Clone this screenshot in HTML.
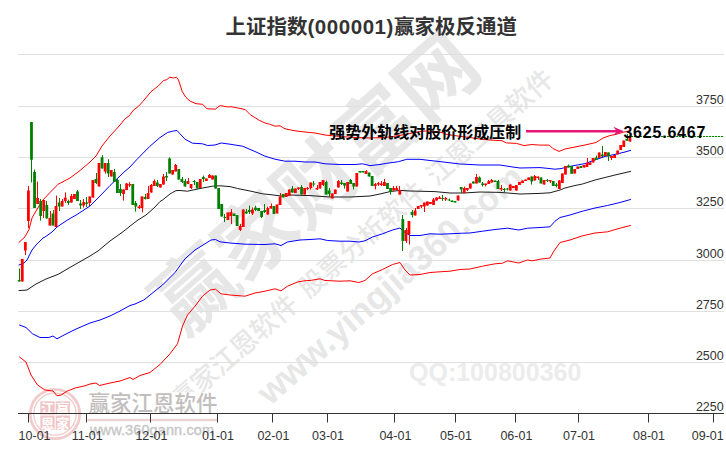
<!DOCTYPE html>
<html lang="zh-CN"><head><meta charset="utf-8"><title>上证指数(000001)赢家极反通道</title>
<style>
html,body{margin:0;padding:0;background:#fff;}
body{width:726px;height:450px;overflow:hidden;font-family:"Liberation Sans", "Noto Sans CJK SC", sans-serif;}
svg{display:block;}
svg text{font-family:"Liberation Sans", "Noto Sans CJK SC", sans-serif;}
.wm{fill:#e7e7e7;font-weight:bold;}
.ax{fill:#333;font-size:12.5px;}
</style></head><body>
<svg width="726" height="450" viewBox="0 0 726 450">
<rect width="726" height="450" fill="#fff"/>
<g class="wm">
<g transform="translate(316.3,183.9) rotate(-41.4)"><text x="0" y="0" font-size="80.4" text-anchor="middle" dominant-baseline="central">赢家财富网</text></g>
<g transform="translate(362.3,239.8) rotate(-41.4)"><text x="0" y="0" font-size="26.45" font-weight="500" word-spacing="4.3" text-anchor="middle" dominant-baseline="central">赢家江恩软件 股票分析软件 江恩工具软件</text></g>
<g transform="translate(389.8,284) rotate(-41.4)"><text x="0" y="0" font-size="35" text-anchor="middle" dominant-baseline="central">www.yingjia360.com</text></g>
<text x="409" y="381" font-size="25" fill="#ececec">QQ:100800360</text>
</g>
<rect x="19" y="392" width="202" height="56" fill="#fff"/>
<rect x="18" y="54" width="706" height="1" fill="#e0e0e0"/>
<rect x="18" y="106" width="706" height="1" fill="#e0e0e0"/>
<rect x="18" y="157" width="706" height="1" fill="#e0e0e0"/>
<rect x="18" y="208" width="706" height="1" fill="#e0e0e0"/>
<rect x="18" y="260" width="706" height="1" fill="#e0e0e0"/>
<rect x="18" y="311" width="706" height="1" fill="#e0e0e0"/>
<rect x="18" y="362" width="706" height="1" fill="#e0e0e0"/>
<g>
<circle cx="55" cy="414" r="24.7" fill="none" stroke="#f2cbcb" stroke-width="2.8"/>
<circle cx="55" cy="414" r="21.2" fill="none" stroke="#f2cbcb" stroke-width="1.3"/>
<rect x="40.3" y="401.3" width="14.4" height="13.2" fill="#f1c6c6"/>
<rect x="55.7" y="401.3" width="14.2" height="13.2" fill="#f1c6c6"/>
<rect x="40.3" y="415.5" width="14.4" height="14.3" fill="#f1c6c6"/>
<rect x="55.7" y="415.5" width="14.2" height="14.3" fill="#f1c6c6"/>
<g fill="#fff" font-size="13" font-weight="bold" text-anchor="middle">
<text x="47.4" y="412.6">江</text><text x="62.8" y="412.6">赢</text><text x="47.4" y="427.6">恩</text><text x="62.8" y="427.6">家</text>
</g>
<text x="88.5" y="410.5" font-size="21.5" font-weight="500" fill="#c2bebe">赢家江恩软件</text>
<rect x="87.5" y="418.8" width="130" height="2.4" fill="#ecd2d2"/>
<text x="90" y="435.3" font-size="14.5" fill="#c6c6c6" stroke="#c6c6c6" stroke-width="0.35" textLength="124" lengthAdjust="spacing">www.360gann.com</text>
</g>
<path d="M19.0 242.4 L25.0 236.8 L29.0 229.5 L32.0 218.0 L36.0 211.0 L42.0 201.0 L50.0 192.5 L58.0 184.3 L70.0 178.0 L80.0 170.5 L90.0 162.0 L96.0 156.0 L102.0 146.0 L110.0 136.0 L120.0 125.0 L125.0 118.8 L129.3 115.8 L133.5 110.0 L138.5 106.3 L142.7 101.7 L151.0 91.7 L158.5 85.8 L163.5 80.5 L166.8 79.7 L169.7 77.2 L173.5 78.0 L176.5 77.2 L178.5 80.0 L182.3 91.7 L186.0 97.5 L190.2 101.2 L196.0 103.7 L202.7 104.3 L206.8 108.7 L215.2 109.2 L220.2 105.5 L227.7 107.0 L231.0 106.7 L242.0 108.8 L245.3 109.7 L250.3 114.7 L258.7 120.0 L265.0 123.0 L269.5 124.2 L275.0 126.2 L280.0 125.8 L285.0 128.8 L295.0 130.8 L305.0 132.0 L315.0 133.0 L325.0 135.0 L340.0 136.5 L355.0 137.5 L370.0 138.0 L385.0 137.5 L395.0 136.2 L405.0 134.5 L415.0 132.5 L424.0 131.0 L432.0 131.2 L441.0 132.3 L447.0 134.5 L454.5 135.6 L463.0 136.7 L472.0 137.8 L480.0 139.0 L491.0 140.1 L502.0 140.7 L506.4 142.9 L516.4 143.4 L524.0 145.6 L531.8 144.5 L539.5 145.1 L549.4 145.1 L552.7 148.4 L556.0 150.0 L559.0 151.4 L565.0 149.0 L575.0 147.0 L585.0 145.0 L596.0 142.5 L603.0 138.0 L609.8 135.6 L616.7 134.2 L623.6 132.1 L630.6 130.8" fill="none" stroke="#ff0000" stroke-width="1.0" stroke-linejoin="round" stroke-linecap="round"/>
<path d="M19.5 357.0 L26.0 362.0 L31.0 375.0 L37.5 385.0 L45.0 390.0 L53.0 391.0 L57.0 395.8 L61.0 395.0 L67.5 391.0 L75.0 388.0 L85.0 385.8 L90.0 384.0 L96.0 383.0 L99.5 385.5 L110.0 383.0 L120.0 381.0 L130.0 377.5 L133.0 379.5 L140.0 375.5 L150.0 372.5 L160.0 364.5 L170.0 353.8 L177.5 343.8 L182.5 326.0 L187.5 315.0 L195.0 306.2 L202.5 296.2 L210.0 290.0 L215.5 289.2 L221.0 293.8 L230.0 295.0 L245.0 296.2 L255.0 293.0 L265.0 291.2 L275.0 288.8 L281.0 290.8 L287.5 286.2 L297.5 282.0 L306.5 280.5 L310.0 280.5 L320.0 278.8 L325.0 280.5 L340.0 281.2 L350.0 280.8 L358.8 282.5 L365.0 280.5 L372.5 273.8 L382.5 269.5 L392.5 264.5 L400.0 262.5 L405.0 270.0 L410.0 275.0 L420.0 274.5 L430.0 272.5 L440.0 271.8 L450.0 271.2 L460.0 269.5 L470.0 269.0 L482.5 266.2 L495.0 263.8 L502.5 263.2 L507.5 260.8 L518.8 263.0 L527.5 260.0 L532.5 260.8 L540.0 259.2 L550.0 258.0 L553.8 251.2 L560.0 242.5 L570.0 240.0 L582.5 235.8 L595.0 233.0 L607.5 231.8 L620.0 228.2 L630.5 225.5" fill="none" stroke="#ff0000" stroke-width="1.0" stroke-linejoin="round" stroke-linecap="round"/>
<path d="M19.0 265.0 L24.0 263.0 L27.0 260.0 L30.0 254.0 L32.0 250.0 L36.0 245.0 L43.0 238.0 L45.0 237.0 L52.0 232.0 L57.0 227.0 L66.0 221.0 L70.0 218.5 L77.0 214.5 L90.0 206.0 L100.0 196.0 L110.0 185.5 L120.0 176.0 L125.0 171.2 L130.0 167.0 L137.5 158.8 L150.0 146.2 L160.0 137.5 L167.5 132.5 L172.5 131.2 L177.0 130.5 L180.0 133.8 L185.0 139.2 L192.5 143.2 L202.5 143.8 L207.5 145.5 L215.0 145.0 L221.2 143.0 L230.0 144.2 L242.5 146.2 L255.0 151.5 L265.0 156.2 L275.0 159.2 L285.0 161.2 L295.0 161.2 L305.0 162.0 L315.0 162.0 L325.0 163.8 L340.0 164.5 L355.0 164.5 L362.5 163.8 L370.0 165.6 L380.0 164.5 L386.7 163.3 L398.3 161.7 L406.7 159.3 L420.0 159.3 L430.0 160.5 L440.0 161.6 L460.0 164.0 L480.0 165.0 L500.0 165.0 L510.0 166.6 L520.0 168.0 L540.0 167.6 L550.0 168.6 L555.0 169.2 L561.0 168.6 L567.0 167.0 L575.0 165.4 L585.0 163.6 L595.0 160.0 L605.0 156.4 L615.0 154.4 L625.0 152.0 L630.6 150.4" fill="none" stroke="#0000ff" stroke-width="1.0" stroke-linejoin="round" stroke-linecap="round"/>
<path d="M19.5 325.0 L26.0 327.5 L32.5 333.8 L40.0 337.5 L48.8 337.5 L53.0 336.0 L57.0 338.8 L65.0 334.5 L75.0 329.5 L90.0 323.0 L100.0 320.0 L110.0 316.0 L120.0 311.0 L130.0 305.5 L135.0 304.0 L143.8 300.0 L150.0 295.0 L162.5 285.0 L175.0 272.5 L185.0 258.8 L195.0 250.0 L205.0 243.8 L211.0 240.0 L215.5 239.5 L220.0 241.8 L230.0 243.0 L245.0 244.2 L265.0 244.5 L275.0 243.8 L281.0 245.5 L287.5 242.0 L300.0 240.0 L310.0 239.5 L320.0 238.8 L327.5 240.5 L340.0 241.2 L350.0 241.2 L358.8 242.0 L365.0 240.8 L372.5 237.0 L382.5 233.8 L392.5 230.0 L400.0 228.0 L405.0 232.5 L410.0 235.5 L420.0 235.5 L430.0 233.8 L440.0 234.2 L450.0 233.8 L462.5 233.2 L470.0 233.0 L482.5 231.2 L495.0 229.5 L507.5 228.2 L518.8 230.0 L527.5 228.2 L540.0 227.5 L550.0 226.8 L555.0 221.2 L560.0 217.5 L570.0 215.0 L582.5 211.2 L595.0 208.0 L607.5 205.5 L620.0 202.5 L630.5 199.5" fill="none" stroke="#0000ff" stroke-width="1.0" stroke-linejoin="round" stroke-linecap="round"/>
<path d="M19.0 290.6 L27.0 290.0 L30.0 288.0 L36.0 284.0 L46.0 279.0 L58.0 274.4 L70.0 267.4 L90.0 256.0 L98.0 251.0 L110.0 241.0 L122.0 232.5 L134.0 223.0 L138.0 220.0 L146.0 215.0 L150.0 211.5 L155.0 207.0 L160.0 201.5 L162.5 200.0 L170.0 194.0 L172.5 192.5 L176.0 190.6 L180.0 190.5 L187.5 191.2 L200.0 188.5 L212.5 186.2 L220.0 185.8 L230.0 186.6 L237.5 188.5 L250.0 191.0 L262.5 193.8 L270.0 194.6 L281.5 196.0 L290.0 195.0 L310.0 195.6 L330.0 197.0 L350.0 197.0 L370.0 196.0 L380.0 194.0 L390.0 191.6 L400.0 190.4 L410.0 191.0 L435.0 191.6 L450.0 193.0 L464.0 193.0 L480.0 192.0 L500.0 192.4 L520.0 194.0 L540.0 193.4 L550.0 192.8 L560.0 190.0 L565.0 188.0 L575.0 185.5 L582.5 184.0 L595.0 180.0 L615.0 175.0 L630.6 171.4" fill="none" stroke="#1c1c1c" stroke-width="1.0" stroke-linejoin="round" stroke-linecap="round"/>
<path d="M631 136.5 H723.5" stroke="#008000" stroke-width="1" stroke-dasharray="2.2 0.8" fill="none"/>
<path d="M22.5 259.0V281.6M25.5 242.0V255.0M28.5 186.0V228.0M37.5 181.6V204.0M43.5 200.0V218.0M50.5 211.0V225.6M56.5 195.6V227.0M62.5 199.0V206.4M65.5 192.4V203.0M71.5 194.0V202.6M74.5 194.0V199.0M83.5 199.0V207.6M89.5 196.4V206.0M93.5 180.0V197.6M99.5 163.0V186.4M105.5 163.0V173.6M111.5 170.0V176.4M123.5 189.6V200.6M126.5 183.0V190.0M129.5 182.0V187.0M139.5 205.0V209.0M142.5 196.4V212.4M148.5 186.0V199.0M151.5 184.0V192.6M154.5 179.4V186.0M160.5 184.0V187.6M163.5 174.0V184.6M172.5 170.0V174.6M175.5 164.0V171.4M188.5 178.0V184.0M191.5 184.0V189.0M200.5 179.0V188.0M206.5 178.6V181.0M209.5 174.0V178.0M212.5 175.4V179.4M228.5 212.6V220.0M231.5 209.0V224.0M240.5 224.0V231.0M243.5 209.4V227.0M252.5 207.4V215.0M267.5 206.6V214.6M271.5 203.4V208.6M277.5 204.6V213.4M280.5 193.0V205.0M286.5 193.0V197.0M289.5 189.4V196.0M295.5 188.6V193.0M298.5 187.4V190.0M304.5 188.0V194.6M307.5 187.0V190.0M310.5 182.6V189.6M317.5 185.0V190.0M320.5 182.0V188.6M323.5 180.0V186.0M332.5 193.4V198.6M335.5 189.6V194.0M338.5 180.0V187.4M347.5 182.0V191.4M356.5 173.0V186.6M366.5 170.0V174.0M375.5 183.0V189.4M378.5 182.0V186.0M381.5 181.0V186.0M384.5 179.0V186.0M393.5 186.0V190.6M396.5 186.0V190.0M399.5 186.0V194.6M406.5 228.0V243.0M409.5 221.0V244.6M415.5 208.0V215.4M418.5 206.0V209.0M421.5 205.0V208.0M424.5 202.6V212.0M427.5 201.6V205.6M430.5 202.0V204.0M433.5 198.0V205.0M436.5 197.4V200.6M439.5 196.0V199.0M445.5 197.0V201.0M458.5 195.6V200.6M464.5 186.6V193.0M467.5 188.0V191.0M470.5 183.6V188.6M476.5 174.0V183.4M485.5 183.6V186.4M488.5 180.0V184.0M491.5 179.0V182.4M501.5 185.0V191.0M510.5 184.6V190.6M513.5 186.0V188.0M516.5 185.0V190.6M519.5 182.0V185.0M522.5 180.6V183.0M525.5 179.4V181.0M528.5 177.4V180.0M534.5 175.0V180.6M538.5 176.6V180.0M544.5 180.0V184.6M550.5 180.0V183.0M559.5 180.0V189.0M562.5 173.5V183.0M565.5 166.0V174.4M574.5 169.0V173.5M577.5 166.6V169.0M584.5 165.0V167.6M587.5 158.0V167.0M590.5 162.4V165.0M593.5 158.0V162.4M599.5 152.6V158.0M605.5 152.0V156.0M611.5 156.0V160.0M614.5 155.0V158.0M617.5 150.6V154.4M620.5 145.0V150.0M623.5 140.6V147.0M630.5 135.5V141.8" stroke="#ff0000" stroke-width="1" fill="none"/>
<path d="M19.5 268.6V281.6M31.5 122.0V182.4M34.5 169.6V208.0M40.5 199.0V220.6M46.5 201.0V218.4M53.5 210.0V225.6M59.5 198.0V211.0M68.5 199.6V205.0M77.5 190.0V201.0M80.5 200.0V209.0M86.5 197.0V207.0M96.5 173.0V184.0M102.5 155.0V168.4M108.5 159.2V177.0M114.5 169.0V182.0M117.5 179.0V193.0M120.5 184.0V196.0M132.5 184.0V205.0M135.5 201.0V211.6M145.5 194.0V199.6M157.5 180.0V187.0M166.5 172.0V181.0M169.5 157.4V173.6M178.5 169.0V179.6M182.5 177.0V183.0M185.5 179.0V186.6M194.5 180.0V185.0M197.5 182.0V188.6M203.5 175.6V182.0M215.5 175.4V188.6M218.5 188.0V209.0M221.5 204.0V216.6M224.5 214.0V222.0M234.5 213.6V216.0M237.5 215.0V226.0M246.5 209.0V214.0M249.5 205.6V214.0M255.5 205.6V211.0M258.5 208.0V211.0M261.5 211.0V218.0M264.5 204.0V213.0M274.5 206.0V214.0M283.5 194.0V197.4M292.5 186.0V192.6M301.5 185.0V194.6M313.5 181.0V186.6M326.5 180.6V194.6M329.5 188.0V197.0M341.5 180.0V185.0M344.5 183.0V188.6M350.5 179.0V184.0M353.5 183.0V189.4M360.5 171.0V172.4M363.5 171.0V172.4M369.5 172.6V176.6M372.5 176.0V186.0M387.5 183.0V189.0M390.5 188.0V194.6M402.5 215.0V251.0M412.5 210.0V217.4M442.5 195.0V201.0M449.5 198.6V201.0M452.5 200.6V202.0M455.5 201.0V202.4M461.5 187.0V193.0M473.5 181.4V183.6M479.5 176.4V182.6M482.5 182.0V186.6M495.5 180.6V182.0M498.5 180.0V189.0M504.5 188.0V192.0M507.5 188.0V190.4M531.5 176.6V184.6M541.5 177.4V183.4M547.5 179.0V182.0M553.5 181.0V186.0M556.5 183.0V187.4M568.5 164.5V167.4M571.5 166.0V173.8M580.5 166.0V168.0M596.5 155.6V160.0M602.5 146.0V157.0M608.5 152.4V161.0M627.5 134.2V140.8" stroke="#008000" stroke-width="1" fill="none"/>
<path d="M20.87 259.0h2.8V281.6h-2.8zM23.94 242.0h2.8V250.6h-2.8zM27.01 190.4h2.8V221.0h-2.8zM36.21 198.0h2.8V204.0h-2.8zM42.35 200.0h2.8V211.0h-2.8zM48.49 218.0h2.8V225.6h-2.8zM54.63 206.0h2.8V227.0h-2.8zM60.77 201.0h2.8V206.4h-2.8zM63.84 197.6h2.8V201.0h-2.8zM69.97 196.0h2.8V202.6h-2.8zM73.04 194.0h2.8V199.0h-2.8zM82.25 202.0h2.8V205.6h-2.8zM88.39 196.4h2.8V203.0h-2.8zM91.46 180.0h2.8V197.6h-2.8zM97.59 163.0h2.8V186.4h-2.8zM103.73 163.0h2.8V171.6h-2.8zM109.87 170.0h2.8V176.4h-2.8zM122.15 189.6h2.8V194.0h-2.8zM125.21 183.6h2.8V190.0h-2.8zM128.28 184.0h2.8V185.6h-2.8zM137.49 206.4h2.8V208.0h-2.8zM140.56 196.4h2.8V208.0h-2.8zM146.70 193.0h2.8V199.0h-2.8zM149.77 185.0h2.8V192.6h-2.8zM152.84 181.0h2.8V186.0h-2.8zM158.97 184.0h2.8V187.6h-2.8zM162.04 176.6h2.8V184.6h-2.8zM171.25 170.0h2.8V174.6h-2.8zM174.32 165.0h2.8V171.4h-2.8zM186.59 181.0h2.8V184.0h-2.8zM189.66 184.0h2.8V188.0h-2.8zM198.87 179.0h2.8V188.0h-2.8zM205.01 178.6h2.8V181.0h-2.8zM208.08 175.0h2.8V178.0h-2.8zM211.15 175.4h2.8V179.4h-2.8zM226.49 212.6h2.8V220.0h-2.8zM229.56 212.0h2.8V216.0h-2.8zM238.77 226.0h2.8V230.0h-2.8zM241.84 209.4h2.8V227.0h-2.8zM251.04 209.4h2.8V213.6h-2.8zM266.39 208.0h2.8V214.6h-2.8zM269.46 206.0h2.8V208.6h-2.8zM275.60 204.6h2.8V213.4h-2.8zM278.67 196.6h2.8V205.0h-2.8zM284.80 193.0h2.8V197.0h-2.8zM287.87 189.4h2.8V196.0h-2.8zM294.01 188.6h2.8V193.0h-2.8zM297.08 187.4h2.8V189.0h-2.8zM303.22 188.0h2.8V194.6h-2.8zM306.29 188.0h2.8V189.0h-2.8zM309.36 182.6h2.8V188.0h-2.8zM315.49 188.0h2.8V189.4h-2.8zM318.56 182.0h2.8V188.6h-2.8zM321.63 180.0h2.8V185.0h-2.8zM330.84 193.4h2.8V198.6h-2.8zM333.91 189.6h2.8V194.0h-2.8zM336.98 181.0h2.8V187.4h-2.8zM346.18 182.0h2.8V191.4h-2.8zM355.39 173.0h2.8V186.6h-2.8zM364.60 171.0h2.8V174.0h-2.8zM373.80 184.0h2.8V186.0h-2.8zM376.87 183.0h2.8V184.6h-2.8zM379.94 183.4h2.8V185.0h-2.8zM383.01 182.0h2.8V186.0h-2.8zM392.22 188.0h2.8V190.6h-2.8zM395.29 188.0h2.8V190.0h-2.8zM398.36 190.0h2.8V194.6h-2.8zM404.49 230.0h2.8V241.0h-2.8zM407.56 221.0h2.8V234.0h-2.8zM413.70 210.6h2.8V215.4h-2.8zM416.77 206.0h2.8V209.0h-2.8zM419.84 205.0h2.8V206.6h-2.8zM422.91 202.6h2.8V206.6h-2.8zM425.98 201.6h2.8V205.6h-2.8zM429.05 202.0h2.8V204.0h-2.8zM432.12 199.4h2.8V205.0h-2.8zM435.18 197.4h2.8V200.6h-2.8zM438.25 197.6h2.8V199.0h-2.8zM444.39 198.0h2.8V199.4h-2.8zM456.67 195.6h2.8V200.6h-2.8zM462.81 188.0h2.8V193.0h-2.8zM465.87 188.0h2.8V190.0h-2.8zM468.94 183.6h2.8V188.6h-2.8zM475.08 177.0h2.8V183.4h-2.8zM484.29 183.6h2.8V185.0h-2.8zM487.36 181.0h2.8V184.0h-2.8zM490.43 180.0h2.8V182.4h-2.8zM499.63 188.0h2.8V189.4h-2.8zM508.84 184.6h2.8V190.6h-2.8zM511.91 186.0h2.8V188.0h-2.8zM514.98 185.0h2.8V190.6h-2.8zM518.05 182.0h2.8V185.0h-2.8zM521.12 180.6h2.8V183.0h-2.8zM524.19 179.4h2.8V181.0h-2.8zM527.25 177.4h2.8V180.0h-2.8zM533.39 176.0h2.8V180.6h-2.8zM536.46 176.6h2.8V178.0h-2.8zM542.60 180.0h2.8V184.6h-2.8zM548.74 180.0h2.8V181.4h-2.8zM557.94 180.6h2.8V189.0h-2.8zM561.01 173.5h2.8V183.0h-2.8zM564.08 166.0h2.8V174.4h-2.8zM573.29 169.0h2.8V173.5h-2.8zM576.36 166.6h2.8V169.0h-2.8zM582.50 165.0h2.8V167.6h-2.8zM585.57 163.0h2.8V167.0h-2.8zM588.63 162.4h2.8V165.0h-2.8zM591.70 158.0h2.8V162.4h-2.8zM597.84 152.6h2.8V158.0h-2.8zM603.98 152.0h2.8V156.0h-2.8zM610.12 156.0h2.8V158.0h-2.8zM613.19 155.0h2.8V158.0h-2.8zM616.26 150.6h2.8V154.4h-2.8zM619.32 145.0h2.8V150.0h-2.8zM622.39 140.6h2.8V147.0h-2.8zM628.53 136.3h2.8V141.6h-2.8z" fill="#ff0000"/>
<path d="M17.80 280.0h2.8V281.6h-2.8zM30.08 122.0h2.8V159.7h-2.8zM33.15 172.0h2.8V208.0h-2.8zM39.28 201.0h2.8V216.0h-2.8zM45.42 205.0h2.8V218.4h-2.8zM51.56 213.6h2.8V225.6h-2.8zM57.70 202.6h2.8V206.4h-2.8zM66.90 201.0h2.8V203.0h-2.8zM76.11 191.6h2.8V201.0h-2.8zM79.18 203.6h2.8V205.6h-2.8zM85.32 202.6h2.8V204.0h-2.8zM94.52 179.0h2.8V183.0h-2.8zM100.66 157.2h2.8V168.4h-2.8zM106.80 163.0h2.8V173.6h-2.8zM112.94 172.0h2.8V182.0h-2.8zM116.01 180.0h2.8V193.0h-2.8zM119.08 189.0h2.8V193.0h-2.8zM131.35 184.0h2.8V205.0h-2.8zM134.42 203.0h2.8V206.4h-2.8zM143.63 197.0h2.8V199.0h-2.8zM155.90 182.6h2.8V186.0h-2.8zM165.11 176.0h2.8V177.4h-2.8zM168.18 158.6h2.8V173.6h-2.8zM177.39 169.0h2.8V179.6h-2.8zM180.46 179.0h2.8V182.0h-2.8zM183.53 181.0h2.8V186.6h-2.8zM192.73 181.0h2.8V182.0h-2.8zM195.80 182.0h2.8V188.6h-2.8zM201.94 177.0h2.8V179.0h-2.8zM214.22 175.4h2.8V188.6h-2.8zM217.28 188.0h2.8V209.0h-2.8zM220.35 204.0h2.8V216.6h-2.8zM223.42 217.0h2.8V218.0h-2.8zM232.63 213.6h2.8V216.0h-2.8zM235.70 215.0h2.8V226.0h-2.8zM244.91 211.4h2.8V213.4h-2.8zM247.97 210.0h2.8V212.0h-2.8zM254.11 207.4h2.8V210.0h-2.8zM257.18 208.0h2.8V211.0h-2.8zM260.25 211.0h2.8V217.0h-2.8zM263.32 210.0h2.8V212.0h-2.8zM272.53 206.0h2.8V214.0h-2.8zM281.73 194.0h2.8V197.4h-2.8zM290.94 188.6h2.8V192.6h-2.8zM300.15 187.0h2.8V194.6h-2.8zM312.42 183.6h2.8V184.6h-2.8zM324.70 182.0h2.8V194.6h-2.8zM327.77 190.6h2.8V194.0h-2.8zM340.05 182.6h2.8V184.0h-2.8zM343.11 183.0h2.8V185.6h-2.8zM349.25 180.0h2.8V184.0h-2.8zM352.32 183.0h2.8V186.6h-2.8zM358.46 171.0h2.8V172.4h-2.8zM361.53 171.0h2.8V172.4h-2.8zM367.67 172.6h2.8V176.6h-2.8zM370.74 176.0h2.8V186.0h-2.8zM386.08 183.0h2.8V189.0h-2.8zM389.15 188.0h2.8V192.0h-2.8zM401.43 219.0h2.8V241.0h-2.8zM410.63 212.0h2.8V215.0h-2.8zM441.32 198.0h2.8V199.0h-2.8zM447.46 199.4h2.8V200.4h-2.8zM450.53 200.6h2.8V202.0h-2.8zM453.60 201.0h2.8V202.4h-2.8zM459.74 187.0h2.8V189.4h-2.8zM472.01 181.4h2.8V183.6h-2.8zM478.15 177.4h2.8V182.6h-2.8zM481.22 183.6h2.8V185.0h-2.8zM493.50 180.6h2.8V182.0h-2.8zM496.56 181.0h2.8V189.0h-2.8zM502.70 189.0h2.8V190.0h-2.8zM505.77 188.6h2.8V189.6h-2.8zM530.32 176.6h2.8V181.4h-2.8zM539.53 177.4h2.8V183.4h-2.8zM545.67 180.0h2.8V181.0h-2.8zM551.81 181.0h2.8V186.0h-2.8zM554.88 184.6h2.8V186.0h-2.8zM567.15 165.5h2.8V167.4h-2.8zM570.22 166.0h2.8V173.8h-2.8zM579.43 166.0h2.8V168.0h-2.8zM594.77 157.6h2.8V160.0h-2.8zM600.91 154.4h2.8V156.4h-2.8zM607.05 152.4h2.8V156.4h-2.8zM625.46 138.8h2.8V140.8h-2.8z" fill="#008000"/>
<rect x="18" y="413" width="706" height="1" fill="#333"/>
<rect x="28" y="413" width="1" height="9.5" fill="#333"/>
<rect x="86" y="413" width="1" height="9.5" fill="#333"/>
<rect x="150" y="413" width="1" height="9.5" fill="#333"/>
<rect x="217" y="413" width="1" height="9.5" fill="#333"/>
<rect x="272" y="413" width="1" height="9.5" fill="#333"/>
<rect x="327" y="413" width="1" height="9.5" fill="#333"/>
<rect x="394" y="413" width="1" height="9.5" fill="#333"/>
<rect x="455" y="413" width="1" height="9.5" fill="#333"/>
<rect x="515" y="413" width="1" height="9.5" fill="#333"/>
<rect x="578" y="413" width="1" height="9.5" fill="#333"/>
<rect x="648" y="413" width="1" height="9.5" fill="#333"/>
<rect x="713" y="413" width="1" height="9.5" fill="#333"/>
<g class="ax" text-anchor="middle">
<text x="34.6" y="439.8">10-01</text>
<text x="87.2" y="439.8">11-01</text>
<text x="151.4" y="439.8">12-01</text>
<text x="218.0" y="439.8">01-01</text>
<text x="273.4" y="439.8">02-01</text>
<text x="328.0" y="439.8">03-01</text>
<text x="395.4" y="439.8">04-01</text>
<text x="456.0" y="439.8">05-01</text>
<text x="516.4" y="439.8">06-01</text>
<text x="579.0" y="439.8">07-01</text>
<text x="649.0" y="439.8">08-01</text>
<text x="707.8" y="439.8">09-01</text>
</g>
<g class="ax" text-anchor="end">
<text x="723.7" y="103.9">3750</text>
<text x="723.7" y="154.9">3500</text>
<text x="723.7" y="205.9">3250</text>
<text x="723.7" y="257.9">3000</text>
<text x="723.7" y="308.9">2750</text>
<text x="723.7" y="359.9">2500</text>
<text x="723.7" y="410.9">2250</text>
</g>
<text x="371.2" y="34.1" font-size="20.5" font-weight="bold" fill="#333" text-anchor="middle">上证指数<tspan letter-spacing="0.55">(000001)</tspan>赢家极反通道</text>
<text x="329.2" y="137.8" font-size="16" font-weight="bold" fill="#000">强势外轨线对股价形成压制</text>
<path d="M526 131.2 H617" stroke="#e6157a" stroke-width="2.4" fill="none"/>
<path d="M623.9 131.2 L613.3 126.8 L616.8 131.2 L613.3 135.6 Z" fill="#e6157a"/>
<text x="623.4" y="137.5" font-size="16" font-weight="bold" fill="#000" textLength="82" lengthAdjust="spacing">3625.6467</text>
</svg>
</body></html>
